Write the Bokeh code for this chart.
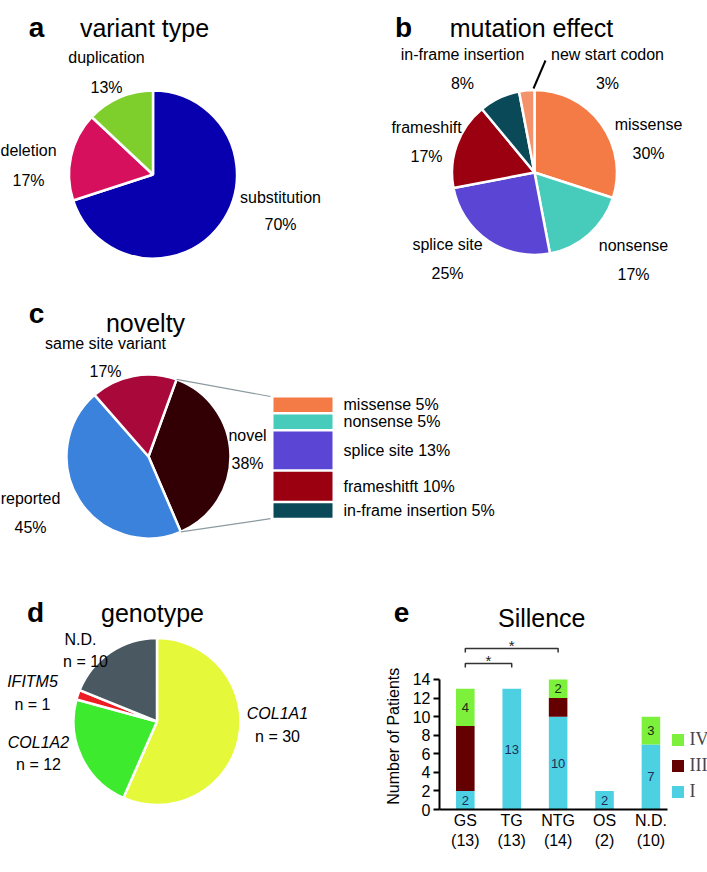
import numpy as np
from bokeh.plotting import figure
from bokeh.layouts import column, row
from bokeh.models import Range1d, ColumnDataSource, FixedTicker, Legend, LegendItem
from bokeh.core.properties import value
from bokeh.embed import file_html
from bokeh.resources import INLINE

# ---------------- data ----------------
variant_types = ["substitution", "deletion", "duplication"]
variant_pct = [70, 17, 13]
variant_colors = ["#0800AE", "#D6105C", "#7ECF2B"]

effect_types = ["missense", "nonsense", "splice site", "frameshift", "in-frame insertion", "new start codon"]
effect_pct = [30, 17, 25, 17, 8, 3]
effect_colors = ["#F47B45", "#47CBBA", "#5B45D5", "#9A0010", "#0A4A58", "#F4936B"]

novelty_types = ["novel", "reported", "same site variant"]
novelty_pct = [38, 45, 17]
novelty_colors = ["#320004", "#3B82DC", "#A9083B"]

novel_parts = ["missense", "nonsense", "splice site", "frameshitft", "in-frame insertion"]
novel_parts_pct = [5, 5, 13, 10, 5]
novel_parts_colors = ["#F47B45", "#47CBBA", "#5B45D5", "#9A0010", "#0A4A58"]

genes = ["COL1A1", "COL1A2", "IFITM5", "N.D."]
gene_n = [30, 12, 1, 10]
gene_colors = ["#E6F83A", "#3EEA2E", "#EE1D23", "#4A5862"]

groups = ["GS", "TG", "NTG", "OS", "N.D."]
group_n = [13, 13, 14, 2, 10]
type_I = [2, 13, 10, 2, 7]
type_III = [7, 0, 2, 0, 0]
type_IV = [4, 0, 2, 0, 3]
type_colors = {"I": "#4DD0E2", "III": "#640000", "IV": "#7DF03C"}
comparisons = [(0, 1, "*"), (0, 2, "*")]
y_ticks = list(range(0, 15, 2))

FONT = "Liberation Sans"
TITLE_SIZE = 25


def base_fig(w, h, x0, y0):
    p = figure(width=w, height=h, x_range=Range1d(x0, x0 + w), y_range=Range1d(-(y0 + h), -y0),
               x_axis_type=None, y_axis_type=None, output_backend="svg", toolbar_location=None,
               min_border=0, outline_line_color=None)
    p.xgrid.visible = False
    p.ygrid.visible = False
    return p


def txt(p, x, y, s, size=16, align="center", baseline="middle", style="normal", font=FONT, color="black",
        angle=0.0):
    p.text(x=[x], y=[-y], text=[s], text_font=value(font), text_font_size=f"{size}px",
           text_align=align, text_baseline=baseline, text_font_style=style, text_color=color, angle=angle)


def pie(p, cx, cy, r, vals, colors, offset_deg=0.0):
    v = np.array(vals, dtype=float)
    frac = np.concatenate([[0.0], np.cumsum(v) / v.sum()])
    off = np.deg2rad(offset_deg)
    src = ColumnDataSource(dict(
        start=np.pi / 2 - off - frac[:-1] * 2 * np.pi,
        end=np.pi / 2 - off - frac[1:] * 2 * np.pi,
        color=colors))
    p.wedge(x=cx, y=-cy, radius=r, start_angle="start", end_angle="end", direction="clock",
            fill_color="color", line_color="white", line_width=2.5, source=src)
    return frac


# ---------------- top figure: panels a, b, c ----------------
top = base_fig(707, 594, 0, 0)

# panel a
txt(top, 36, 27, "a", size=28, style="bold", baseline="alphabetic")
txt(top, 144, 27, "variant type", size=TITLE_SIZE, baseline="alphabetic")
pie(top, 152.5, 174, 84, variant_pct, variant_colors)
a_pos = [(280, 197, 224), (28, 150, 180), (106, 57, 87)]
for name, pct, (x, y1, y2) in zip(variant_types, variant_pct, a_pos):
    txt(top, x, y1, name)
    txt(top, x, y2, f"{pct}%")

# panel b
txt(top, 403, 27, "b", size=28, style="bold", baseline="alphabetic")
txt(top, 531, 27, "mutation effect", size=TITLE_SIZE, baseline="alphabetic")
pie(top, 534, 172, 82.5, effect_pct, effect_colors)
b_pos = [(648, 124, 153), (633, 245, 274), (447, 244, 273), (426, 127, 156), (462, 54, 83), (607, 54, 83)]
for name, pct, (x, y1, y2) in zip(effect_types, effect_pct, b_pos):
    txt(top, x, y1, name)
    txt(top, x, y2, f"{pct}%")
top.line(x=[533, 545], y=[-88, -60], line_color="black", line_width=2)

# panel c
txt(top, 36, 313, "c", size=28, style="bold", baseline="alphabetic")
txt(top, 145, 322, "novelty", size=TITLE_SIZE, baseline="alphabetic")
c_cx, c_cy, c_r, c_off = 148, 456, 82, 20
frac_c = pie(top, c_cx, c_cy, c_r, novelty_pct, novelty_colors, offset_deg=c_off)
c_pos = [(247, 435, 463), (30, 498, 527), (105, 343, 371)]
for name, pct, (x, y1, y2) in zip(novelty_types, novelty_pct, c_pos):
    txt(top, x, y1, name)
    txt(top, x, y2, f"{pct}%")

# breakdown bar of the novel slice
bar_x0, bar_x1, bar_top, px_per_pct, gap = 273, 332, 397, 2.9, 2.5
vals = np.array(novel_parts_pct, dtype=float)
tops = bar_top + np.concatenate([[0.0], np.cumsum(vals)[:-1]]) * px_per_pct + np.arange(len(vals)) * gap
bots = tops + vals * px_per_pct
top.quad(left=bar_x0, right=bar_x1, top=list(-tops), bottom=list(-bots), fill_color=novel_parts_colors,
         line_color=None)
for name, pct, t, b in zip(novel_parts, novel_parts_pct, tops, bots):
    txt(top, 343, (t + b) / 2, f"{name} {pct}%", align="left")

# connector lines from the novel slice to the bar
a0 = np.deg2rad(c_off + frac_c[0] * 360)
a1 = np.deg2rad(c_off + frac_c[1] * 360)
p0 = (c_cx + c_r * np.sin(a0), c_cy - c_r * np.cos(a0))
p1 = (c_cx + c_r * np.sin(a1), c_cy - c_r * np.cos(a1))
top.multi_line(xs=[[p0[0], 270], [p1[0], 270]], ys=[[-p0[1], -(tops[0] - 1)], [-p1[1], -(bots[-1] + 1)]],
               line_color="#8C9AA0", line_width=1.2)

# ---------------- bottom-left: panel d ----------------
pd_ = base_fig(348, 270, 0, 594)
txt(pd_, 35, 617, "d", size=28, style="bold", baseline="alphabetic")
txt(pd_, 152, 617, "genotype", size=TITLE_SIZE, baseline="alphabetic")
pie(pd_, 156.5, 753.5, 83.5, gene_n, gene_colors)
d_pos = [(277, 743, 277, 772), (38, 780, 38, 808), (32, 703, 32, 732), (80, 650, 85, 678)]
for name, n, (x1, y1, x2, y2) in zip(genes, gene_n, d_pos):
    txt(pd_, x1, y1, name, style="normal" if name == "N.D." else "italic")
    txt(pd_, x2, y2, f"n = {n}")

# ---------------- bottom-right: panel e ----------------
X0, XU = 463.0, 46.75      # pixel of first bar, pixels per category
Y0, YU = 809.0, 9.286      # pixel of zero, pixels per patient
FRAME_LEFT = 437
SPLIT = 409                # left strip (panel letter + y title) | plot


def ex(px):
    return (px - X0) / XU


def ey(py):
    return (Y0 - py) / YU


# left strip: panel letter and y-axis title
pe_left = base_fig(SPLIT - 348, 270, 348, 594)
txt(pe_left, 401, 617, "e", size=28, style="bold", baseline="alphabetic")
txt(pe_left, 393, 858, "Number of Patients", size=16, align="left", angle=np.pi / 2)

pe = figure(width=707 - SPLIT, height=270, x_range=Range1d(ex(FRAME_LEFT), ex(707)), y_range=Range1d(0, ey(594)),
            output_backend="svg", toolbar_location=None, min_border_left=FRAME_LEFT - SPLIT, min_border_right=0,
            min_border_top=0, min_border_bottom=55, outline_line_color=None)
pe.grid.visible = False

src = ColumnDataSource(dict(x=list(range(len(groups))), I=type_I, III=type_III, IV=type_IV))
rends = pe.vbar_stack(["I", "III", "IV"], x="x", width=0.4, source=src,
                      color=[type_colors["I"], type_colors["III"], type_colors["IV"]], line_color=None)

# value labels in I and IV segments
lx, ly, lt, lc = [], [], [], []
for i in range(len(groups)):
    if type_I[i] > 0:
        lx.append(i); ly.append(type_I[i] / 2); lt.append(str(type_I[i])); lc.append("#1C2D5A")
    if type_IV[i] > 0:
        lx.append(i); ly.append(type_I[i] + type_III[i] + type_IV[i] / 2); lt.append(str(type_IV[i])); lc.append("#1A2A10")
pe.text(x=lx, y=ly, text=lt, text_color=lc, text_font=value(FONT), text_font_size="13px",
        text_align="center", text_baseline="middle")

# significance brackets
levels = [ey(663), ey(648)]
drop = 4 / YU
for (a, b, star), lev in zip(comparisons, levels):
    pe.line(x=[a, a, b, b], y=[lev - drop, lev, lev, lev - drop], line_color="#333333", line_width=1.5)
    pe.text(x=[(a + b) / 2], y=[lev + 3 / YU], text=[star], text_font=value(FONT), text_font_size="15px",
            text_align="center", text_baseline="middle", text_color="#222222")

pe.text(x=[ex(540)], y=[ey(617)], text=["Sillence"], text_font=value(FONT), text_font_size=f"{TITLE_SIZE}px",
        text_align="center", text_baseline="alphabetic")

pe.xaxis.ticker = FixedTicker(ticks=list(range(len(groups))))
pe.xaxis.major_label_overrides = {i: f"{g}\n({n})" for i, (g, n) in enumerate(zip(groups, group_n))}
pe.xaxis.bounds = (ex(FRAME_LEFT), ex(667))
pe.xaxis.major_tick_out = 0
pe.xaxis.major_tick_in = 0
pe.xaxis.minor_tick_out = 0
pe.xaxis.minor_tick_in = 0
pe.xaxis.axis_line_width = 2
pe.xaxis.major_label_standoff = 2
pe.xaxis.major_label_text_font_size = "16px"
pe.xaxis.major_label_text_font = FONT
pe.xaxis.major_label_text_color = "black"

pe.yaxis.ticker = FixedTicker(ticks=y_ticks)
pe.yaxis.bounds = (y_ticks[0], y_ticks[-1])
pe.yaxis.axis_line_width = 2
pe.yaxis.major_tick_line_width = 2
pe.yaxis.major_tick_out = 6
pe.yaxis.major_tick_in = 0
pe.yaxis.minor_tick_out = 0
pe.yaxis.minor_tick_in = 0
pe.yaxis.major_label_standoff = 3
pe.yaxis.major_label_text_font_size = "16px"
pe.yaxis.major_label_text_font = FONT
pe.yaxis.major_label_text_color = "black"

legend = Legend(items=[LegendItem(label="IV", renderers=[rends[2]]),
                       LegendItem(label="III", renderers=[rends[1]]),
                       LegendItem(label="I", renderers=[rends[0]])],
                location=(230.5, 7), orientation="vertical", glyph_width=15, glyph_height=15,
                label_height=20, spacing=5, padding=0, margin=0, label_standoff=5,
                border_line_color=None, background_fill_alpha=0,
                label_text_font="Liberation Serif", label_text_font_size="18px")
pe.add_layout(legend)

layout = column(top, row(pd_, pe_left, pe, spacing=0), spacing=0)

with open("out.html", "w") as f:
    f.write(file_html(layout, INLINE))
